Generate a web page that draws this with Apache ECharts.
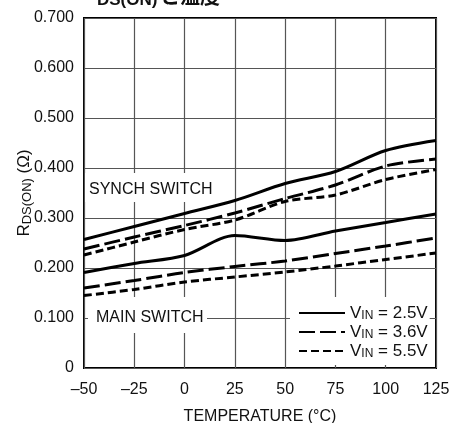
<!DOCTYPE html>
<html><head><meta charset="utf-8">
<script src="https://cdn.jsdelivr.net/npm/echarts@6/dist/echarts.min.js"></script>
<style>html,body{margin:0;padding:0;background:#fff}#c{width:450px;height:423px}</style>
</head><body><div id="c"></div>
<script>
const temps = [-50, -25, 0, 25, 50, 75, 100, 125];
const synch25 = [0.257, 0.283, 0.309, 0.335, 0.369, 0.393, 0.435, 0.455];
const synch36 = [0.238, 0.262, 0.285, 0.310, 0.339, 0.366, 0.404, 0.418];
const synch55 = [0.226, 0.252, 0.277, 0.296, 0.333, 0.346, 0.377, 0.397];
const main25 = [0.191, 0.209, 0.225, 0.265, 0.255, 0.274, 0.291, 0.308];
const main36 = [0.160, 0.175, 0.191, 0.203, 0.214, 0.229, 0.244, 0.260];
const main55 = [0.145, 0.157, 0.172, 0.182, 0.192, 0.204, 0.217, 0.230];
const names = ['VIN = 2.5V', 'VIN = 3.6V', 'VIN = 5.5V'];
const vinLabels = ['2.5V', '3.6V', '5.5V'];
const yTicks = [0, 0.1, 0.2, 0.3, 0.4, 0.5, 0.6, 0.7];

const FONT = '"Liberation Sans", Arial, sans-serif';
const dashes = ['solid', [16, 5], [8, 4]];
const pair = arr => temps.map((t, i) => [t, arr[i]]);

function mk(name, arr, k) {
  return {
    name: name, type: 'line', data: pair(arr), smooth: 0.3, symbol: 'none',
    lineStyle: { color: '#000', width: 3, type: dashes[k] }, itemStyle: { color: '#000' }, z: 3
  };
}

const chart = echarts.init(document.getElementById('c'), null, { renderer: 'canvas' });
chart.setOption({
  animation: false,
  backgroundColor: '#fff',
  textStyle: { fontFamily: FONT },
  grid: { left: 84, right: 14, top: 18, bottom: 55, outerBoundsMode: 'none', containLabel: false,
    show: true, borderColor: '#000', borderWidth: 2, backgroundColor: 'transparent' },
  xAxis: {
    type: 'value', min: -50, max: 125, interval: 25,
    name: 'TEMPERATURE (°C)', nameLocation: 'middle', nameGap: 41,
    nameTextStyle: { fontFamily: FONT, fontSize: 16, color: '#111' },
    axisLine: { show: false }, axisTick: { show: false },
    axisLabel: { fontFamily: FONT, fontSize: 16, color: '#111', margin: 14,
      formatter: v => v < 0 ? '\u2013' + Math.abs(v) : String(v) },
    splitLine: { show: true, lineStyle: { color: '#555', width: 1.2 } }
  },
  yAxis: {
    type: 'value', min: 0, max: 0.7, interval: 0.1,
    name: '{m|R}{s|DS(ON)}{m| (Ω)}', nameLocation: 'middle', nameGap: 50, nameRotate: 90,
    nameMoveOverlap: false,
    nameTextStyle: { rich: {
      m: { fontFamily: FONT, fontSize: 17, color: '#111' },
      s: { fontFamily: FONT, fontSize: 13, color: '#111', padding: [7, 0, 0, 0] }
    } },
    axisLine: { show: false }, axisTick: { show: false },
    axisLabel: { fontFamily: FONT, fontSize: 16, color: '#111', margin: 10,
      formatter: v => { const t = yTicks.find(x => Math.abs(x - v) < 1e-9); return t === 0 ? '0' : (t !== undefined ? t.toFixed(3) : ''); } },
    splitLine: { show: true, lineStyle: { color: '#555', width: 1.2 } }
  },
  legend: {
    orient: 'vertical', left: 290, top: 297, padding: [7, 2, 5, 8], itemGap: 1,
    backgroundColor: '#fff', itemWidth: 46, itemHeight: 14,
    itemStyle: { opacity: 0 },
    data: names,
    formatter: n => { const k = names.indexOf(n); return '{m|V}{s|IN}{m| = ' + vinLabels[k] + '}'; },
    textStyle: { rich: {
      m: { fontFamily: FONT, fontSize: 17, color: '#111', lineHeight: 18 },
      s: { fontFamily: FONT, fontSize: 12, color: '#111', lineHeight: 12, padding: [6, 0, 0, 0] }
    } }
  },
  graphic: [
    { type: 'rect', z: 1, shape: { x: 85, y: 173, width: 128, height: 29 }, style: { fill: '#fff' } },
    { type: 'text', z: 2, x: 89, y: 190, style: { text: 'SYNCH SWITCH', fontSize: 16, fontFamily: FONT, fill: '#111', verticalAlign: 'middle' } },
    { type: 'rect', z: 1, shape: { x: 88, y: 297, width: 119, height: 36 }, style: { fill: '#fff' } },
    { type: 'text', z: 2, x: 96, y: 318, style: { text: 'MAIN SWITCH', fontSize: 16, fontFamily: FONT, fill: '#111', verticalAlign: 'middle' } },
    { type: 'text', z: 2, x: 80, y: -10, style: { text: 'R', fontSize: 22, fontWeight: 'bold', fontFamily: FONT, fill: '#111', verticalAlign: 'middle' } },
    { type: 'text', z: 2, x: 97, y: 0, style: { text: 'DS(ON)', fontSize: 17, fontWeight: 'bold', fontFamily: FONT, fill: '#111', verticalAlign: 'middle' } },
    { type: 'text', z: 2, x: 160, y: -4, style: { text: 'と温度', fontSize: 20, fontWeight: 'bold', fontFamily: '"Noto Sans CJK JP", sans-serif', fill: '#111', verticalAlign: 'middle' } }
  ],
  series: [
    mk(names[0], synch25, 0), mk(names[1], synch36, 1), mk(names[2], synch55, 2),
    mk(names[0], main25, 0), mk(names[1], main36, 1), mk(names[2], main55, 2)
  ]
});
</script></body></html>
